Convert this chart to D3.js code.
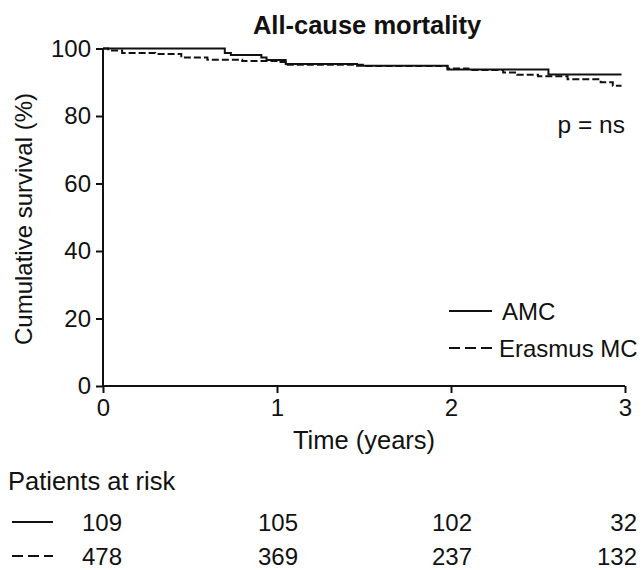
<!DOCTYPE html>
<html>
<head>
<meta charset="utf-8">
<script src="https://cdn.jsdelivr.net/npm/d3@7"></script>
<style>
  body { margin: 0; background: #fff; }
  svg text { font-family: "Liberation Sans", Arial, sans-serif; fill: #111; }
</style>
</head>
<body>
<script>
// Kaplan-Meier step points
var amcTimes = [0, 0.70, 0.735, 0.91, 0.94, 1.05, 1.46, 1.98, 2.56, 2.98];
var amcSurv  = [100, 98.7, 98.1, 97.3, 96.6, 95.4, 94.9, 93.8, 92.3, 92.3];

var emcTimes = [0, 0.03, 0.11, 0.30, 0.45, 0.60, 0.80, 1.00, 1.05, 1.50, 1.98, 2.10, 2.30, 2.38, 2.50, 2.67, 2.86, 2.93, 2.98];
var emcSurv  = [100, 99.4, 98.7, 98.4, 97.3, 96.7, 96.3, 96.0, 95.2, 94.8, 94.1, 93.6, 92.9, 92.2, 91.8, 90.9, 90.0, 89.0, 89.0];

var xTicks = [0, 1, 2, 3];
var yTicks = [0, 20, 40, 60, 80, 100];

var seriesNames = ["AMC", "Erasmus MC"];
var riskAMC = [109, 105, 102, 32];
var riskEMC = [478, 369, 237, 132];

var width = 644, height = 570;

var svg = d3.select("body").append("svg")
    .attr("width", width)
    .attr("height", height);

var x = d3.scaleLinear().domain([0, 3]).range([103, 625]);
var y = d3.scaleLinear().domain([0, 100]).range([386, 48.5]);

// title
svg.append("text")
    .attr("x", 367)
    .attr("y", 34)
    .attr("text-anchor", "middle")
    .style("font-size", "25.5px")
    .style("font-weight", "bold")
    .text("All-cause mortality");

// axes
var xAxis = svg.append("g")
    .attr("transform", "translate(0," + y(0) + ")")
    .call(d3.axisBottom(x).tickValues(xTicks).tickFormat(d3.format("d")).tickSize(7).tickPadding(6));

var yAxis = svg.append("g")
    .attr("transform", "translate(" + x(0) + ",0)")
    .call(d3.axisLeft(y).tickValues(yTicks).tickSize(7).tickPadding(5));

[xAxis, yAxis].forEach(function(g){
    g.select(".domain").attr("stroke", "#111").attr("stroke-width", 2);
    g.selectAll(".tick line").attr("stroke", "#111").attr("stroke-width", 2);
    g.selectAll(".tick text").style("font-size", "24px").attr("fill", "#111");
});
// plain axis lines, without the default outer ticks
xAxis.select(".domain").attr("d", "M" + x(0) + ",0H" + x(3));
yAxis.select(".domain").attr("d", "M0," + y(100) + "V" + (y(0) + 1));

// axis titles
svg.append("text")
    .attr("x", 364)
    .attr("y", 449)
    .attr("text-anchor", "middle")
    .style("font-size", "25.5px")
    .text("Time (years)");

svg.append("text")
    .attr("transform", "translate(32," + 219 + ") rotate(-90)")
    .attr("text-anchor", "middle")
    .style("font-size", "24px")
    .text("Cumulative survival (%)");

// curves
var line = d3.line()
    .x(function(d){ return x(d[0]); })
    .y(function(d){ return y(d[1]); })
    .curve(d3.curveStepAfter);

var amcData = d3.zip(amcTimes, amcSurv);
var emcData = d3.zip(emcTimes, emcSurv);

svg.append("path")
    .datum(amcData)
    .attr("d", line)
    .attr("fill", "none")
    .attr("stroke", "#111")
    .attr("stroke-width", 2);

svg.append("path")
    .datum(emcData)
    .attr("d", line)
    .attr("fill", "none")
    .attr("stroke", "#111")
    .attr("stroke-width", 2)
    .attr("stroke-dasharray", "7,3");

// p value
svg.append("text")
    .attr("x", 625)
    .attr("y", 133)
    .attr("text-anchor", "end")
    .style("font-size", "24.5px")
    .text("p = ns");

// legend
var dashes = [null, "11,5"];
seriesNames.forEach(function(name, i){
    var ly = 311 + i * 37;
    svg.append("line")
        .attr("x1", 449).attr("x2", 492)
        .attr("y1", ly).attr("y2", ly)
        .attr("stroke", "#111")
        .attr("stroke-width", 2)
        .attr("stroke-dasharray", dashes[i]);
    svg.append("text")
        .attr("x", i == 0 ? 502 : 499)
        .attr("y", ly + 8.5)
        .style("font-size", "24px")
        .text(name);
});

// patients at risk table
svg.append("text")
    .attr("x", 8)
    .attr("y", 490)
    .style("font-size", "25.5px")
    .text("Patients at risk");

var riskRight = [122, 298, 472, 637];
[riskAMC, riskEMC].forEach(function(row, i){
    var ry = 522 + i * 34;
    svg.append("line")
        .attr("x1", 12).attr("x2", 53)
        .attr("y1", ry).attr("y2", ry)
        .attr("stroke", "#111")
        .attr("stroke-width", 2)
        .attr("stroke-dasharray", dashes[i]);
    svg.selectAll(null)
        .data(row)
        .enter().append("text")
        .attr("x", function(d, j){ return riskRight[j]; })
        .attr("y", ry + 8.5)
        .attr("text-anchor", "end")
        .style("font-size", "24px")
        .text(function(d){ return d; });
});
</script>
</body>
</html>
